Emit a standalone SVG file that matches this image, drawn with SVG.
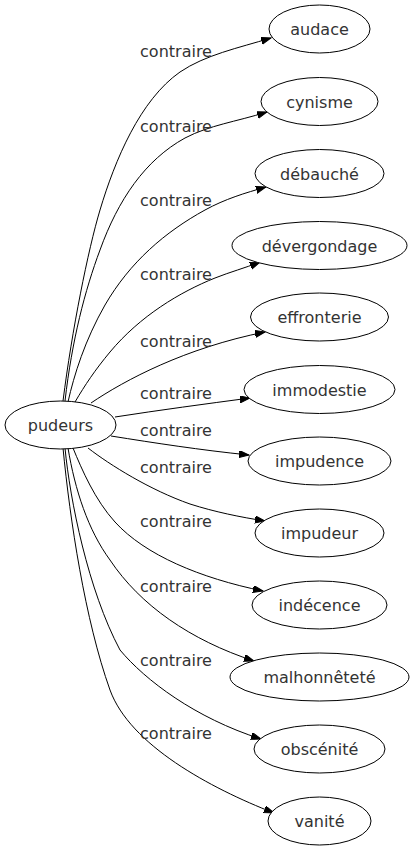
<svg xmlns="http://www.w3.org/2000/svg" width="414" height="851" viewBox="0 0 414 851">
<defs>
<marker id="ah" markerUnits="userSpaceOnUse" markerWidth="11" markerHeight="8" refX="10" refY="3.5" orient="auto">
<path d="M0,0 L10,3.5 L0,7 z" fill="#000" stroke="#000" stroke-width="1"/>
</marker>
<style>
.n ellipse{fill:#fff;stroke:#000;stroke-width:1}
.n text{font-family:"DejaVu Sans",sans-serif;font-size:16px;fill:#333;text-anchor:middle}
.e path{fill:none;stroke:#000;stroke-width:1;marker-end:url(#ah)}
.l{font-family:"DejaVu Sans",sans-serif;font-size:16px;fill:#333;text-anchor:middle}
</style>
</defs>
<rect width="414" height="851" fill="#fff"/>
<g id="edges" class="e">
<path d="M63,401 C72,330 88,250 100,210 C115,160 140,100 180,72 C205,55 238,48 271,38"/>
<path d="M65,401 C72,340 85,290 100,250 C118,200 145,160 185,138 C210,125 235,122 267,112"/>
<path d="M68,402 C74,375 85,340 105,305 C130,262 165,232 205,210 C225,199 245,193 266,187"/>
<path d="M75,402 C85,385 95,370 110,352 C140,316 180,292 215,278 C230,272 245,268 260,262"/>
<path d="M91,403 C125,380 185,348 265,332"/>
<path d="M115,417 C160,410 205,404 250,398"/>
<path d="M111,436 C155,443 200,450 249,455"/>
<path d="M88,448 C110,465 150,490 190,504 C215,512 240,517 265,521"/>
<path d="M73,448 C82,470 95,500 115,522 C145,555 200,578 263,591"/>
<path d="M68,448 C75,490 88,530 110,560 C140,605 190,640 254,661"/>
<path d="M65,448 C70,500 88,590 120,650 C145,680 195,718 261,739"/>
<path d="M63,448 C70,520 85,620 110,690 C130,745 210,788 274,813"/>
</g>
<g id="labels">
<text class="l" x="176" y="57">contraire</text>
<text class="l" x="176" y="132">contraire</text>
<text class="l" x="176" y="206">contraire</text>
<text class="l" x="176" y="280">contraire</text>
<text class="l" x="176" y="347">contraire</text>
<text class="l" x="176" y="399">contraire</text>
<text class="l" x="176" y="436">contraire</text>
<text class="l" x="176" y="473">contraire</text>
<text class="l" x="176" y="527">contraire</text>
<text class="l" x="176" y="592">contraire</text>
<text class="l" x="176" y="666">contraire</text>
<text class="l" x="176" y="739">contraire</text>
</g>
<g id="pudeurs" class="n"><ellipse cx="60.5" cy="425" rx="55.5" ry="24"/><text x="60.5" y="431">pudeurs</text></g>
<g id="audace" class="n"><ellipse cx="319.5" cy="29" rx="50.5" ry="24"/><text x="319.5" y="35">audace</text></g>
<g id="cynisme" class="n"><ellipse cx="319.5" cy="101.5" rx="58.5" ry="24"/><text x="319.5" y="107.5">cynisme</text></g>
<g id="debauche" class="n"><ellipse cx="319.5" cy="173.5" rx="64.5" ry="24"/><text x="319.5" y="179.5">débauché</text></g>
<g id="devergondage" class="n"><ellipse cx="319.5" cy="245.5" rx="87.5" ry="24"/><text x="319.5" y="251.5">dévergondage</text></g>
<g id="effronterie" class="n"><ellipse cx="319.5" cy="317" rx="69" ry="24"/><text x="319.5" y="323">effronterie</text></g>
<g id="immodestie" class="n"><ellipse cx="319.5" cy="389.5" rx="75.5" ry="24"/><text x="319.5" y="395.5">immodestie</text></g>
<g id="impudence" class="n"><ellipse cx="319.5" cy="461" rx="71.5" ry="24"/><text x="319.5" y="467">impudence</text></g>
<g id="impudeur" class="n"><ellipse cx="319.5" cy="533" rx="64.5" ry="24"/><text x="319.5" y="539">impudeur</text></g>
<g id="indecence" class="n"><ellipse cx="319.5" cy="605" rx="67.5" ry="24"/><text x="319.5" y="611">indécence</text></g>
<g id="malhonnetete" class="n"><ellipse cx="319.5" cy="677" rx="89.5" ry="24"/><text x="319.5" y="683">malhonnêteté</text></g>
<g id="obscenite" class="n"><ellipse cx="319.5" cy="749" rx="65.5" ry="24"/><text x="319.5" y="755">obscénité</text></g>
<g id="vanite" class="n"><ellipse cx="319.5" cy="821" rx="51.5" ry="24"/><text x="319.5" y="827">vanité</text></g>
</svg>
